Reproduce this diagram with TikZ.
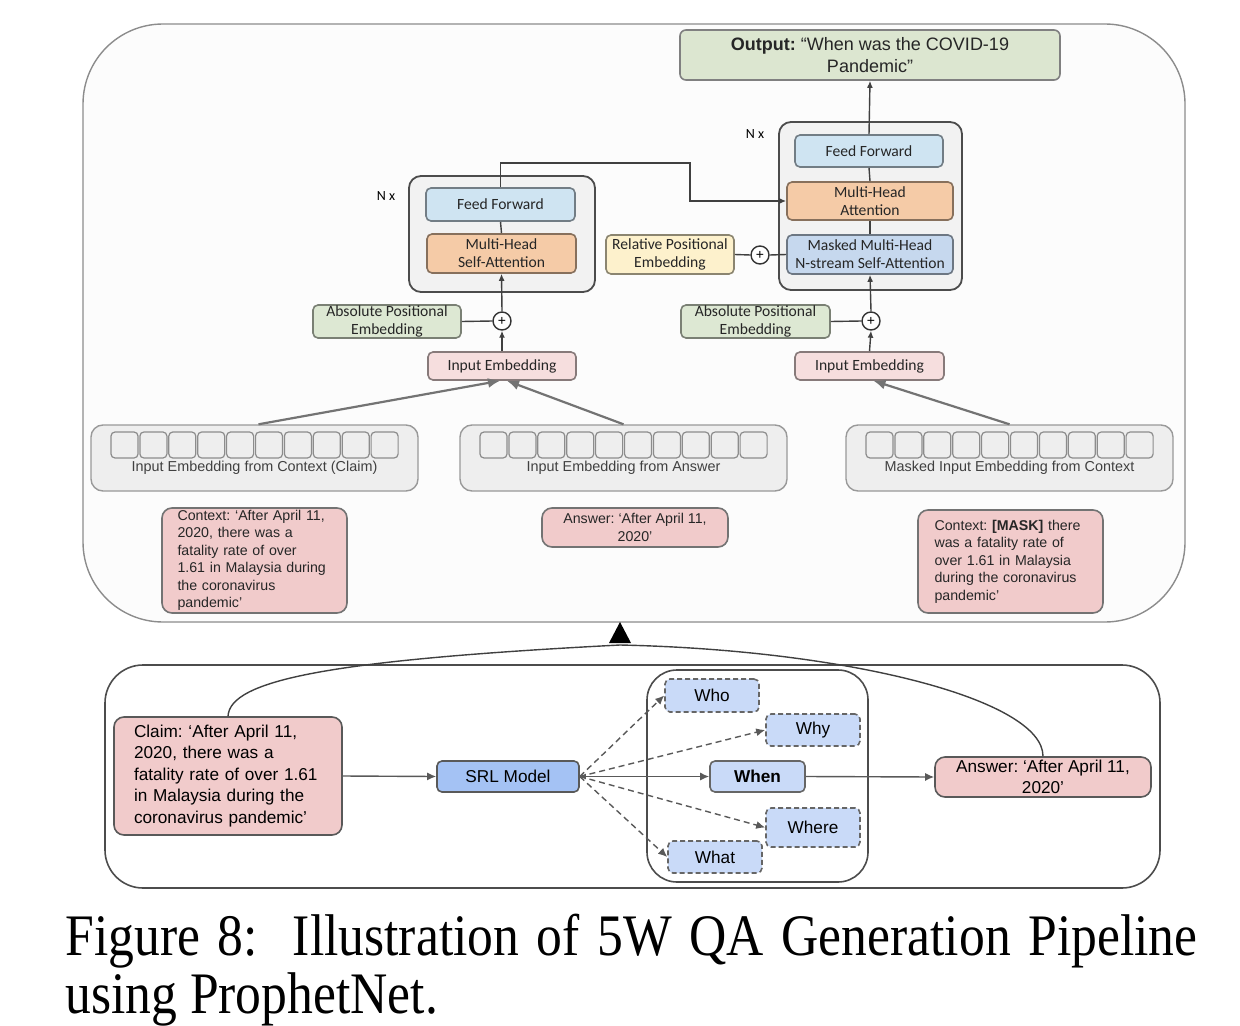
\documentclass[tikz,border=0pt]{standalone}
\usepackage{fontspec}
\setmainfont{Liberation Serif}
\setsansfont{Liberation Sans}
\newfontfamily\carlito{Carlito}
\usetikzlibrary{positioning,arrows.meta}

\definecolor{ffblue}{HTML}{CFE4F2}
\definecolor{mhorange}{HTML}{F5CBA7}
\definecolor{maskblue}{HTML}{C6D8EE}
\definecolor{relyellow}{HTML}{FDF1CC}
\definecolor{absgreen}{HTML}{DDE8D3}
\definecolor{inpink}{HTML}{F6DEDE}
\definecolor{outgreen}{HTML}{DCE6D0}
\definecolor{txtpink}{HTML}{F1CBCB}
\definecolor{srlblue}{HTML}{A4C2F4}
\definecolor{wblue}{HTML}{C9DAF8}
\definecolor{bargrey}{HTML}{EEEEEE}
\definecolor{stackgrey}{HTML}{F2F2F2}

\begin{document}
\frenchspacing
\begin{tikzpicture}[x=0.5pt,y=-0.5pt,
    every node/.style={inner sep=0pt},
    sz/.style 2 args={minimum width=#1pt,minimum height=#2pt},
    blk/.style={draw=#1!55!black,fill=#1,line width=0.8pt,rounded corners=2.5pt,
        align=center,text=black!85,font=\carlito\fontsize{7.8}{9}\selectfont},
    stack/.style={draw=black!70,fill=stackgrey,line width=0.9pt,rounded corners=6pt},
    plus/.style={circle,draw=black!80,fill=white,line width=0.7pt,minimum size=9pt,
        font=\sffamily\fontsize{7}{7}\selectfont},
    bar/.style={draw=black!40,fill=bargrey,line width=0.7pt,rounded corners=6pt,sz={163.5}{33}},
    cell/.style={draw=black!45,fill=bargrey,line width=0.6pt,rounded corners=2pt},
    barlbl/.style={font=\sffamily\fontsize{7.2}{8.5}\selectfont,text=black!75},
    note/.style={draw=black!55,fill=txtpink,line width=0.8pt,rounded corners=5pt,
        font=\sffamily\fontsize{7.1}{8.75}\selectfont,text=black!85},
    pink/.style={draw=black!65,fill=txtpink,line width=0.8pt,rounded corners=5pt,
        font=\sffamily\fontsize{8.6}{10.75}\selectfont},
    wbox/.style={draw=black!60,fill=wblue,line width=0.8pt,rounded corners=2.5pt,
        font=\sffamily\fontsize{8.6}{10.75}\selectfont,sz={47}{16}},
    wdash/.style={wbox,dash pattern=on 2.5pt off 1.5pt},
    link/.style={draw=black!75,line width=0.7pt},
    arr/.style={link,-{Latex[length=3.5pt,width=3pt]}},
    emb/.style={draw=black!55,line width=1.1pt,-{Latex[length=6pt,width=5pt]}},
    flow/.style={draw=black!65,line width=0.7pt,-{Latex[length=4.5pt,width=4pt]}},
    dflow/.style={flow,dash pattern=on 3pt off 2pt}
    ]
    \useasboundingbox (0,0) rectangle (1240,1026);

    % ProphetNet part
    \draw[draw=black!45,fill=black!1,line width=0.7pt,rounded corners=40pt] (83,24) rectangle (1185,622);

    \node[draw=black!50,fill=outgreen,line width=0.8pt,rounded corners=3pt,sz={190}{25},align=center,
        font=\sffamily\fontsize{9}{11}\selectfont,text=black!85] (output) at (870,55)
        {\textbf{Output:} “When was the COVID-19\\Pandemic”};

    % Encoder
    \node[stack,sz={93}{58}] (encstack) at (502,234) {};
    \node[font=\carlito\fontsize{7}{8}\selectfont] (encn) at (386,196) {N x};
    \node[blk=ffblue,sz={74.5}{16.5}] (encff) at (500.5,204.5) {Feed Forward};
    \node[blk=mhorange,sz={74.5}{19.5}] (encmhsa) at (501.5,253.5) {Multi-Head\\Self-Attention};
    \node[plus] (encplus) at (502,321) {+};
    \node[blk=absgreen,sz={74}{16.5}] (encabs) at (387,321.5) {Absolute Positional\\Embedding};
    \node[blk=inpink,sz={74}{14}] (encin) at (502,366) {Input Embedding};

    % Decoder
    \node[stack,sz={91.5}{84}] (decstack) at (870.5,206) {};
    \node[font=\carlito\fontsize{7}{8}\selectfont] (decn) at (755,134) {N x};
    \node[blk=ffblue,sz={74}{16}] (decff) at (869,151) {Feed Forward};
    \node[blk=mhorange,sz={83}{19}] (decmha) at (870,201) {Multi-Head\\Attention};
    \node[blk=maskblue,sz={83}{19.5}] (decmask) at (870,254.5) {Masked Multi-Head\\N-stream Self-Attention};
    \node[blk=relyellow,sz={64}{19.5}] (relpos) at (670,254.5) {Relative Positional\\Embedding};
    \node[plus] (relplus) at (760,255) {+};
    \node[plus] (decplus) at (871,321) {+};
    \node[blk=absgreen,sz={74.5}{16.5}] (decabs) at (755.5,321.5) {Absolute Positional\\Embedding};
    \node[blk=inpink,sz={74.5}{14}] (decin) at (869.5,366) {Input Embedding};

    \coordinate (bend) at (690,163);
    \draw[link] (encmhsa.north) -- (encff.south);
    \draw[arr] (encin.north) -- (encplus.south);
    \draw[arr] (encplus.north) -- (encmhsa.south);
    \draw[link] (encabs.east) -- (encplus.west);
    \draw[arr] (encff.north) |- (bend) |- (decmha.west);
    \draw[link] (decmask.north) -- (decmha.south);
    \draw[link] (decmha.north) -- (decff.south);
    \draw[arr] (decff.north) -- (output.south);
    \draw[link] (relpos.east) -- (relplus.west);
    \draw[link] (relplus.east) -- (decmask.west);
    \draw[link] (decabs.east) -- (decplus.west);
    \draw[arr] (decin.north) -- (decplus.south);
    \draw[arr] (decplus.north) -- (decmask.south);

    % Embedding bars
    \node[bar] (ctxbar) at (254.5,458) {};
    \node[bar] (ansbar) at (623.5,458) {};
    \node[bar] (maskbar) at (1009.5,458) {};
    \foreach \bx in {91,460,846}
        \foreach \i in {0,...,9}
            \draw[cell] ({\bx+20+\i*28.9},432) rectangle ++(27,26);
    \node[barlbl] (ctxlbl) at ([yshift=-5pt]ctxbar.center) {Input Embedding from Context (Claim)};
    \node[barlbl] (anslbl) at ([yshift=-5pt]ansbar.center) {Input Embedding from Answer};
    \node[barlbl] (masklbl) at ([yshift=-5pt]maskbar.center) {Masked Input Embedding from Context};
    \draw[emb] ([xshift=2pt]ctxbar.north) -- ([xshift=-1pt]encin.south);
    \draw[emb] (ansbar.north) -- ([xshift=2.5pt]encin.south);
    \draw[emb] (maskbar.north) -- ([xshift=2pt]decin.south);

    \node[note,sz={92.5}{52.5},text width=77pt,align=left] (ctxnote) at (254.5,560.5)
        {Context: ‘After April 11,\\2020, there was a\\fatality rate of over\\1.61 in Malaysia during\\the coronavirus\\pandemic’};
    \node[note,sz={93}{19.5},align=center] (ansnote) at (635,527.5) {Answer: ‘After April 11,\\2020’};
    \node[note,sz={92.5}{51.5},text width=76pt,align=left] (masknote) at (1010.5,561.5)
        {Context: \textbf{[MASK]} there\\was a fatality rate of\\over 1.61 in Malaysia\\during the coronavirus\\pandemic’};

    % SRL part
    \draw[draw=black!70,line width=0.8pt,rounded corners=19pt] (105,665) rectangle (1160,888);
    \draw[draw=black!70,line width=0.8pt,rounded corners=15pt] (647,670) rectangle (868,882);
    \fill[black] (609,643) -- (620,622) -- (631,643) -- cycle;
    \coordinate (merge) at (620,645);

    \node[pink,sz={114}{59},text width=94pt,align=left] (claim) at (228,776)
        {Claim: ‘After April 11,\\2020, there was a\\fatality rate of over 1.61\\in Malaysia during the\\coronavirus pandemic’};
    \node[draw=black!65,fill=srlblue,line width=0.8pt,rounded corners=2.5pt,sz={71}{15.5},
        font=\sffamily\fontsize{8.6}{10.75}\selectfont] (srl) at (508,776.5) {SRL Model};
    \node[wdash,sz={47}{16.5}] (who) at (712,695.5) {Who};
    \node[wdash] (why) at (813,730) {Why};
    \node[wbox,sz={47.5}{15.5}] (when) at (757.5,776.5) {\textbf{When}};
    \node[wdash,sz={47}{19.5}] (where) at (813,827.5) {Where};
    \node[wdash] (what) at (715,857) {What};
    \node[pink,sz={108}{20},align=center] (answer) at (1043,777) {Answer: ‘After April 11,\\2020’};

    \draw[flow] (claim.east) -- (srl.west);
    \draw[flow,{Latex[length=3pt,width=3pt]}-{Latex[length=4.5pt,width=4pt]}] (srl.east) -- (when.west);
    \draw[flow] (when.east) -- (answer.west);
    \draw[dflow] (srl.east) -- (who.west);
    \draw[dflow] (srl.east) -- (why.west);
    \draw[dflow] (srl.east) -- (where.west);
    \draw[dflow] (srl.east) -- (what.west);
    \draw[draw=black!75,line width=0.7pt] (claim.north) .. controls (230,680) and (330,660) .. (merge);
    \draw[draw=black!75,line width=0.7pt] (answer.north) .. controls (1043,700) and (850,650) .. (merge);

    % Caption
    \node[anchor=base west,font=\fontsize{25.8}{30}\selectfont] (cap1) at (65,955)
        {\scalebox{1}[1.14]{\makebox[566pt][s]{Figure 8:\ \ Illustration of 5W QA Generation Pipeline}}};
    \node[anchor=base west,font=\fontsize{25.8}{30}\selectfont] (cap2) at (65,1013)
        {\scalebox{1}[1.14]{using ProphetNet.}};
\end{tikzpicture}
\end{document}
